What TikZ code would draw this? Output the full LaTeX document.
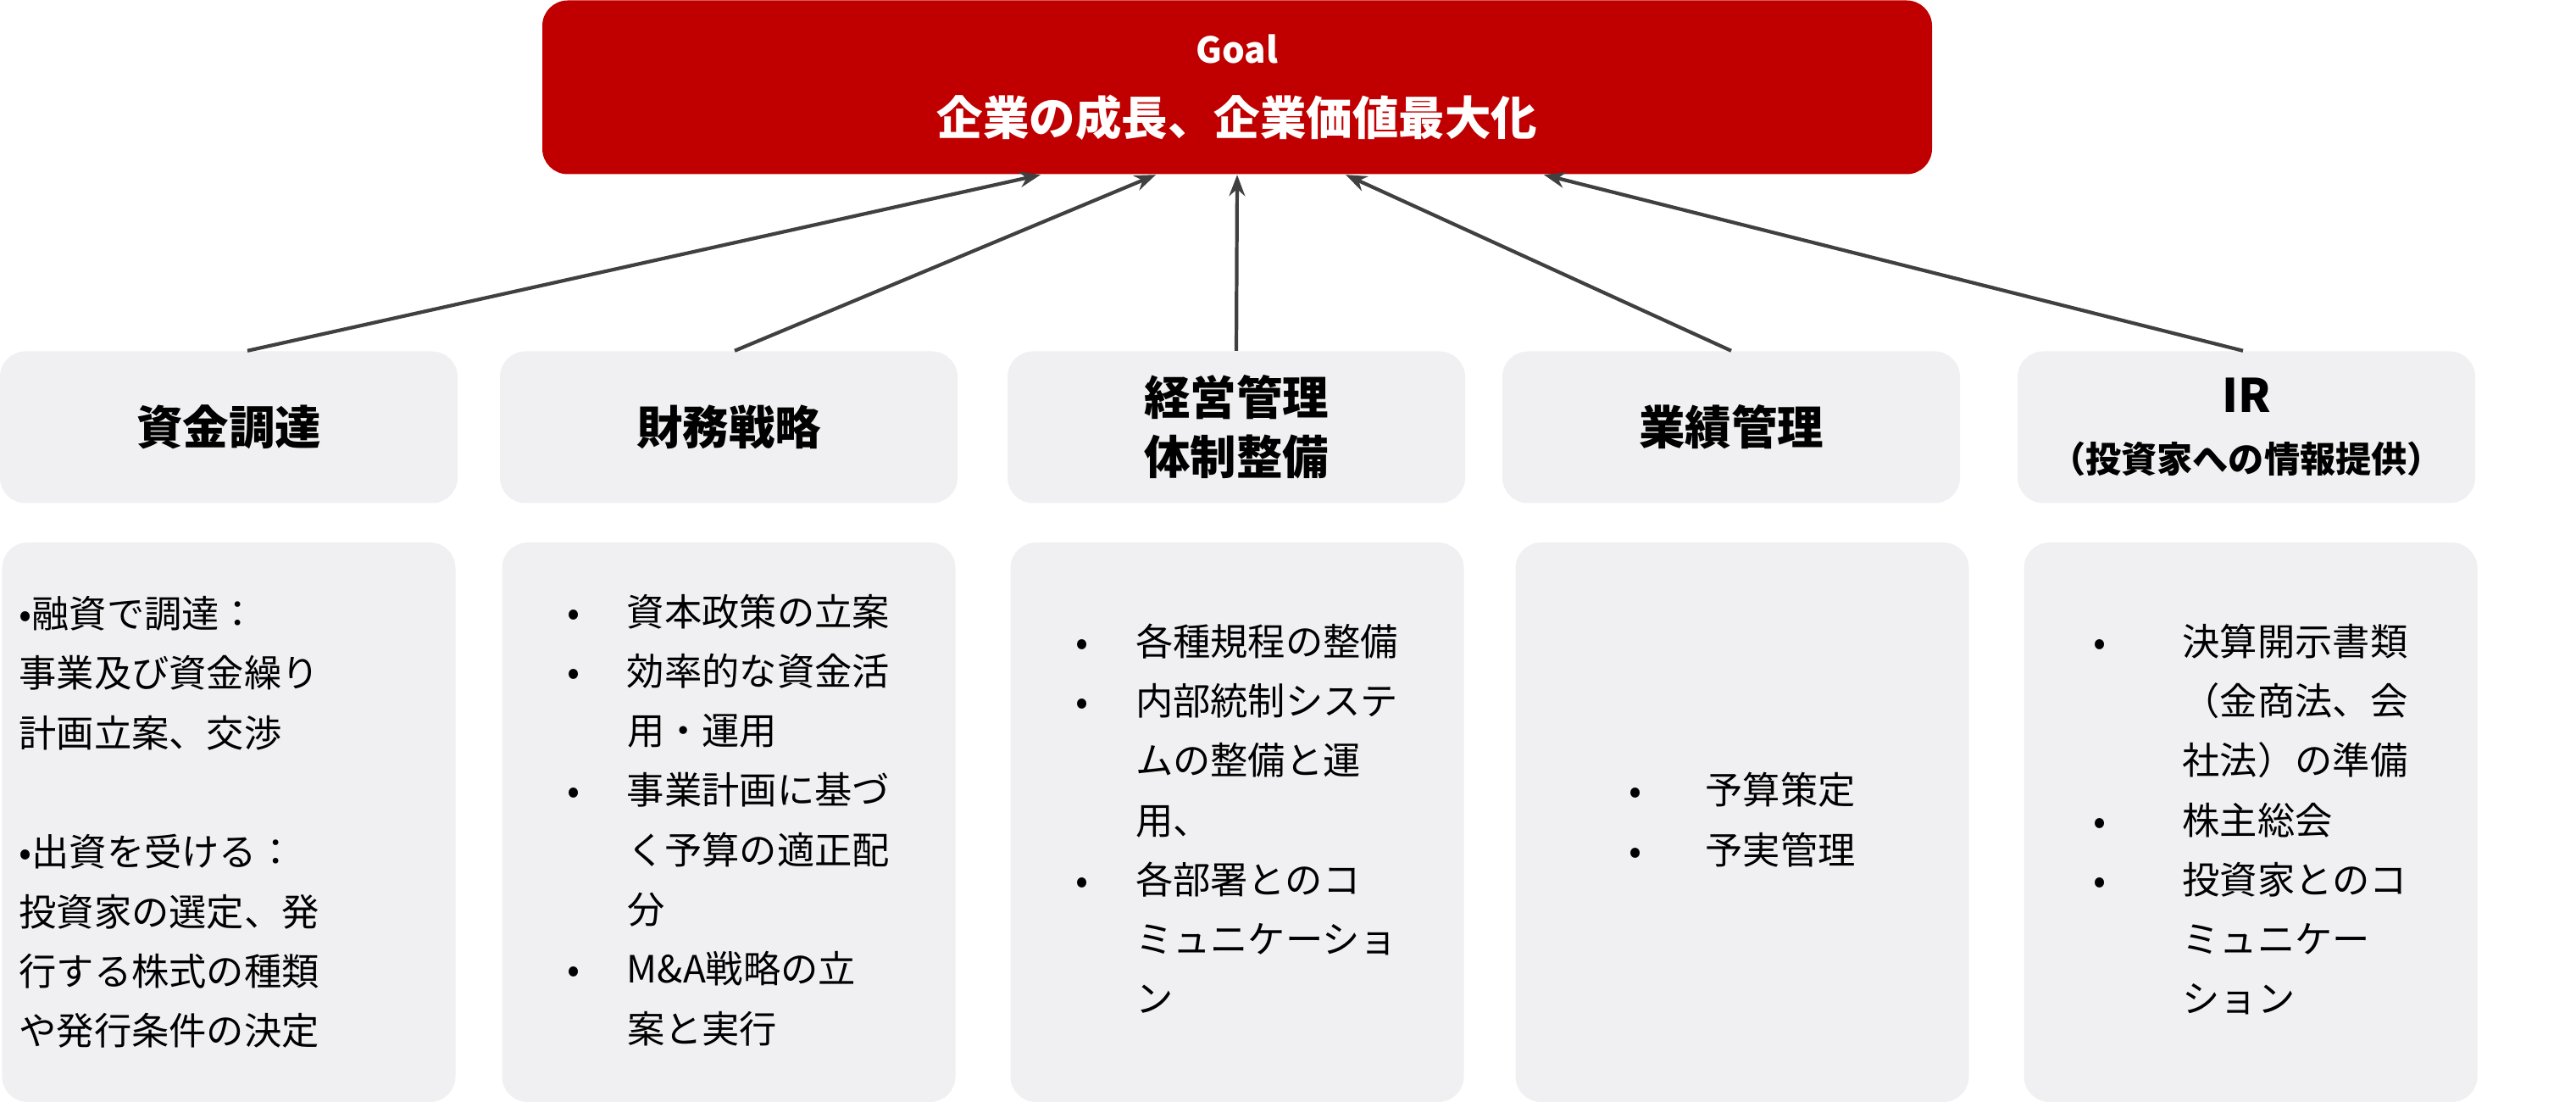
\documentclass[tikz,border=0pt]{standalone}
\usepackage{fontspec}
\setmainfont{Noto Sans CJK JP}
\usepackage{xcolor}
\usepackage{tikz}
\usetikzlibrary{arrows.meta}
\definecolor{goalred}{RGB}{192,0,0}
\definecolor{boxgray}{RGB}{240,240,242}
\definecolor{arrowgray}{RGB}{64,64,64}

\begin{document}
\begin{tikzpicture}
    \tikzstyle{goalbox} = [rectangle, rounded corners=0.3cm, minimum width=16.4cm, minimum height=2.05cm, align=center, fill=goalred, text=white, font=\fontsize{15.5}{24}\selectfont\bfseries]
    \tikzstyle{headbox} = [rectangle, rounded corners=0.3cm, minimum width=5.4cm, minimum height=1.79cm, align=center, fill=boxgray, font=\fontsize{15.5}{20}\selectfont\bfseries]
    \tikzstyle{itembox} = [rectangle, rounded corners=0.3cm, minimum width=5.35cm, minimum height=6.6cm, align=left, fill=boxgray, font=\fontsize{12.6}{20}\selectfont]
    \tikzstyle{link} = [-{Stealth[length=0.25cm]}, draw=arrowgray, line width=1.2pt]
    \useasboundingbox (0,0) rectangle (30.4,12.99);

    % Goal
    \node [goalbox] (goal) at (14.6,11.96) {{\fontsize{12}{24}\selectfont Goal}\\企業の成長、企業価値最大化};

    % Headers
    \node [headbox] (fund) at (2.70,7.95) {資金調達};
    \node [headbox] (fin) at (8.60,7.95) {財務戦略};
    \node [headbox] (mgmt) at (14.59,7.95) {経営管理\\体制整備};
    \node [headbox] (perf) at (20.43,7.95) {業績管理};
    \node [headbox] (ir) at (26.51,7.95) {IR\\{\fontsize{12}{16}\selectfont （投資家への情報提供）}};

    % Details
    \node [itembox, text width=4.95cm] (fundtxt) at (2.70,3.29) {•融資で調達：\\事業及び資金繰り\\計画立案、交渉\\[20pt]•出資を受ける：\\投資家の選定、発\\行する株式の種類\\や発行条件の決定};
    \node [itembox] (fintxt) at (8.60,3.29) {\begin{tabular}{@{}l@{\hspace{0.55cm}}l@{}}
        • & 資本政策の立案\\
        • & 効率的な資金活\\
          & 用・運用\\
        • & 事業計画に基づ\\
          & く予算の適正配\\
          & 分\\
        • & M\&A戦略の立\\
          & 案と実行
    \end{tabular}};
    \node [itembox] (mgmttxt) at (14.60,3.29) {\begin{tabular}{@{}l@{\hspace{0.55cm}}l@{}}
        • & 各種規程の整備\\
        • & 内部統制システ\\
          & ムの整備と運\\
          & 用、\\
        • & 各部署とのコ\\
          & ミュニケーショ\\
          & ン
    \end{tabular}};
    \node [itembox] (perftxt) at (20.56,3.29) {\begin{tabular}{@{}l@{\hspace{0.75cm}}l@{}}
        • & 予算策定\\
        • & 予実管理
    \end{tabular}};
    \node [itembox] (irtxt) at (26.56,3.29) {\begin{tabular}{@{}l@{\hspace{0.9cm}}l@{}}
        • & 決算開示書類\\
          & （金商法、会\\
          & 社法）の準備\\
        • & 株主総会\\
        • & 投資家とのコ\\
          & ミュニケー\\
          & ション
    \end{tabular}};

    % Arrows
    \draw [link] ([xshift=0.22cm]fund.north) -- ([xshift=-2.32cm]goal.south);
    \draw [link] ([xshift=0.07cm]fin.north) -- ([xshift=-0.96cm]goal.south);
    \draw [link] (mgmt.north) -- (goal.south);
    \draw [link] (perf.north) -- ([xshift=1.28cm]goal.south);
    \draw [link] ([xshift=-0.04cm]ir.north) -- ([xshift=3.62cm]goal.south);
\end{tikzpicture}
\end{document}
